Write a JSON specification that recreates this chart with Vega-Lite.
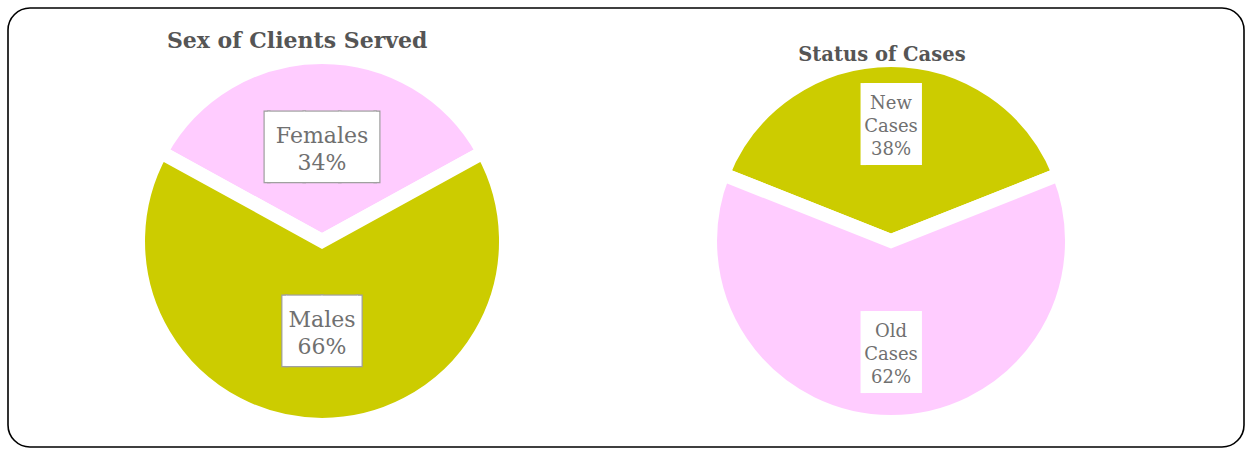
{
  "$schema": "https://vega.github.io/schema/vega-lite/v6.json",
  "width": 1247,
  "height": 449,
  "autosize": {"type": "fit", "contains": "padding"},
  "padding": {"left": 8, "top": 8, "right": 3, "bottom": 0},
  "background": "white",
  "config": {"view": {"stroke": "#000000", "strokeWidth": 1.6, "cornerRadius": 22, "fill": null}},
  "data": {
    "values": [
      {"chart": "Sex of Clients Served", "cat": "Females", "pct": 34},
      {"chart": "Sex of Clients Served", "cat": "Males", "pct": 66},
      {"chart": "Status of Cases", "cat": "New Cases", "pct": 38},
      {"chart": "Status of Cases", "cat": "Old Cases", "pct": 62}
    ]
  },
  "encoding": {
    "x": {"field": "chart", "type": "nominal", "sort": ["Sex of Clients Served", "Status of Cases"], "scale": {"type": "point", "padding": 0.5861, "align": 0.4708}, "axis": null},
    "y": {"datum": "centre", "type": "nominal", "scale": {"type": "point", "padding": 0, "align": 0.5306}, "axis": null}
  },
  "layer": [
    {
      "transform": [
        {"filter": "datum.chart == 'Sex of Clients Served'"},
        {"calculate": "datum.cat + ' ' + datum.pct + '%'", "as": "label"}
      ],
      "encoding": {
        "theta": {"field": "pct", "type": "quantitative", "stack": true, "scale": {"range": [-1.0681, 5.2151]}},
        "detail": {"field": "cat", "type": "nominal"}
      },
      "layer": [
        {
          "mark": {"type": "arc", "outerRadius": 184, "stroke": "white", "strokeWidth": 14},
          "encoding": {
            "color": {"field": "cat", "type": "nominal", "scale": {"domain": ["Females", "Males", "New Cases", "Old Cases"], "range": ["#FFCCFF", "#CCCC00", "#CCCC00", "#FFCCFF"]}, "legend": null}
          }
        },
        {
          "mark": {"type": "text", "radius": 92, "font": "DejaVu Sans Mono", "fontSize": 59, "baseline": "middle", "color": "#a0a0a0", "stroke": "#a0a0a0", "strokeWidth": 2.5},
          "encoding": {"text": {"condition": {"test": "datum.cat == 'Females'", "value": "▕███▏"}, "value": "▕██▏"}}
        },
        {
          "mark": {"type": "text", "radius": 92, "font": "DejaVu Sans Mono", "fontSize": 59, "baseline": "middle", "color": "#ffffff"},
          "encoding": {"text": {"condition": {"test": "datum.cat == 'Females'", "value": "▕███▏"}, "value": "▕██▏"}}
        },
        {
          "mark": {"type": "text", "radius": 92, "dy": -13, "font": "DejaVu Serif", "fontSize": 22, "lineBreak": " ", "lineHeight": 27, "baseline": "middle", "color": "#707070"},
          "encoding": {"text": {"field": "label"}}
        },
        {
          "transform": [{"filter": "datum.cat == 'Females'"}],
          "mark": {"type": "text", "font": "DejaVu Serif", "fontWeight": "bold", "fontSize": 22, "baseline": "middle", "color": "#555555"},
          "encoding": {"text": {"field": "chart"}, "theta": {"value": -0.124}, "radius": {"value": 201}}
        }
      ]
    },
    {
      "transform": [
        {"filter": "datum.chart == 'Status of Cases'"},
        {"calculate": "datum.cat + ' ' + datum.pct + '%'", "as": "label"}
      ],
      "encoding": {
        "theta": {"field": "pct", "type": "quantitative", "stack": true, "scale": {"range": [-1.1938, 5.0894]}},
        "detail": {"field": "cat", "type": "nominal"}
      },
      "layer": [
        {
          "mark": {"type": "arc", "outerRadius": 181, "stroke": "white", "strokeWidth": 14},
          "encoding": {
            "color": {"field": "cat", "type": "nominal", "scale": {"domain": ["Females", "Males", "New Cases", "Old Cases"], "range": ["#FFCCFF", "#CCCC00", "#CCCC00", "#FFCCFF"]}, "legend": null}
          }
        },
        {
          "mark": {"type": "text", "radius": 114, "font": "DejaVu Sans Mono", "fontSize": 69, "baseline": "middle", "dx": -5, "color": "#ffffff"},
          "encoding": {"text": {"value": "▕█▍"}}
        },
        {
          "mark": {"type": "text", "radius": 114, "dy": -23, "font": "DejaVu Serif", "fontSize": 18, "lineBreak": " ", "lineHeight": 23, "baseline": "middle", "color": "#707070"},
          "encoding": {"text": {"field": "label"}}
        },
        {
          "transform": [{"filter": "datum.cat == 'New Cases'"}],
          "mark": {"type": "text", "font": "DejaVu Serif", "fontWeight": "bold", "fontSize": 19.5, "baseline": "middle", "color": "#555555"},
          "encoding": {"text": {"field": "chart"}, "theta": {"value": -0.049}, "radius": {"value": 186}}
        }
      ]
    }
  ],
  "resolve": {"scale": {"theta": "independent"}}
}
